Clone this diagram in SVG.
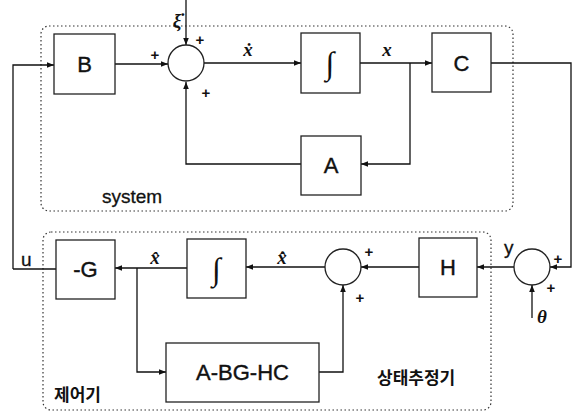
<svg xmlns="http://www.w3.org/2000/svg" width="583" height="413" viewBox="0 0 583 413">
<defs>
<marker id="ah" viewBox="0 0 10 10" refX="10" refY="5" markerWidth="7" markerHeight="7" markerUnits="userSpaceOnUse" orient="auto">
<path d="M0,1 L10,5 L0,9 Z" fill="#111"/>
</marker>
</defs>
<style>
.blk{fill:#fff;stroke:#222;stroke-width:1.3}
.sum{fill:#fff;stroke:#222;stroke-width:1.3}
.ln{fill:none;stroke:#111;stroke-width:1.3}
.arr{fill:none;stroke:#111;stroke-width:1.3;marker-end:url(#ah)}
.reg{fill:none;stroke:#333;stroke-width:1.2;stroke-dasharray:1.5 2.5}
.lbl{font-family:"Liberation Sans",Arial,sans-serif;font-size:22px;fill:#111;text-anchor:middle;stroke:#111;stroke-width:0.4}
.int{font-family:"Liberation Serif","Times New Roman",serif;font-size:32px;fill:#111;text-anchor:middle}
.var{font-family:"Liberation Serif","Times New Roman",serif;font-style:italic;font-weight:bold;font-size:19px;fill:#111;text-anchor:middle}
.pl{font-family:"Liberation Sans",Arial,sans-serif;font-weight:bold;font-size:15px;fill:#111;text-anchor:middle}
.sm{font-family:"Liberation Sans",Arial,sans-serif;font-size:19px;fill:#111;stroke:#111;stroke-width:0.3}
.kr{font-family:"Liberation Sans","Noto Sans CJK KR",sans-serif;font-weight:bold;font-size:17px;fill:#111}
</style>
<g id="regions">
<rect class="reg" x="41" y="26" width="472" height="185" rx="8"/>
<rect class="reg" x="43" y="232" width="448" height="178" rx="8"/>
</g>
<g id="connectors">
<path class="arr" d="M13,269 L13,65 L54,65"/>
<path class="arr" d="M115,64 L168,64"/>
<path class="arr" d="M186,0 L186,45"/>
<path class="arr" d="M204,63 L301,63"/>
<path class="arr" d="M360,63 L432,63"/>
<path class="arr" d="M410,63 L410,164 L361,164"/>
<path class="arr" d="M301,164 L186,164 L186,82"/>
<path class="arr" d="M491,63 L571,63 L571,267 L550,267"/>
<path class="arr" d="M532,318 L532,285"/>
<path class="arr" d="M514,267 L477,267"/>
<path class="arr" d="M419,267 L361,267"/>
<path class="arr" d="M325,267 L246,267"/>
<path class="arr" d="M187,268 L115,268"/>
<path class="ln" d="M56,269 L13,269"/>
<path class="arr" d="M137,268 L137,372 L166,372"/>
<path class="arr" d="M319,372 L343,372 L343,285"/>
</g>
<g id="B"><rect class="blk" x="54" y="34" width="61" height="60"/><text class="lbl" x="84.5" y="72">B</text></g>
<g id="sum1"><circle class="sum" cx="186" cy="63" r="18"/></g>
<g id="int1"><rect class="blk" x="301" y="33" width="59" height="60"/><text class="int" x="330" y="74">∫</text></g>
<g id="C"><rect class="blk" x="432" y="33" width="59" height="59"/><text class="lbl" x="461.5" y="71">C</text></g>
<g id="A"><rect class="blk" x="301" y="136" width="60" height="59"/><text class="lbl" x="331" y="173">A</text></g>
<g id="G"><rect class="blk" x="56" y="240" width="59" height="59"/><text class="lbl" x="85.5" y="277">-G</text></g>
<g id="int2"><rect class="blk" x="187" y="239" width="59" height="59"/><text class="int" x="216.5" y="280">∫</text></g>
<g id="ABGHC"><rect class="blk" x="166" y="343" width="153" height="59"/><text class="lbl" x="242.5" y="380">A-BG-HC</text></g>
<g id="sum2"><circle class="sum" cx="343" cy="267" r="18"/></g>
<g id="H"><rect class="blk" x="419" y="238" width="58" height="59"/><text class="lbl" x="448" y="275">H</text></g>
<g id="sum3"><circle class="sum" cx="532" cy="267" r="18"/></g>
<g id="labels">
<text class="var" x="177" y="27" font-size="12">ξ̇</text>
<text class="pl" x="200" y="45">+</text>
<text class="pl" x="155" y="60">+</text>
<text class="pl" x="206" y="98">+</text>
<text class="var" x="248" y="56">ẋ</text>
<text class="var" x="387" y="56">x</text>
<text class="sm" x="102" y="203">system</text>
<text class="sm" x="21" y="266">u</text>
<text class="var" x="155" y="264">x̂</text>
<text class="var" x="282" y="264">x̂̇</text>
<text class="pl" x="369" y="257">+</text>
<text class="pl" x="360" y="303">+</text>
<text class="sm" x="504" y="254" font-size="21">y</text>
<text class="pl" x="558" y="264">+</text>
<text class="pl" x="551" y="293">+</text>
<text class="var" x="542" y="323" font-size="16">θ</text>
<text class="kr" x="54" y="401">제어기</text>
<text class="kr" x="377" y="384">상태추정기</text>
</g>
</svg>
